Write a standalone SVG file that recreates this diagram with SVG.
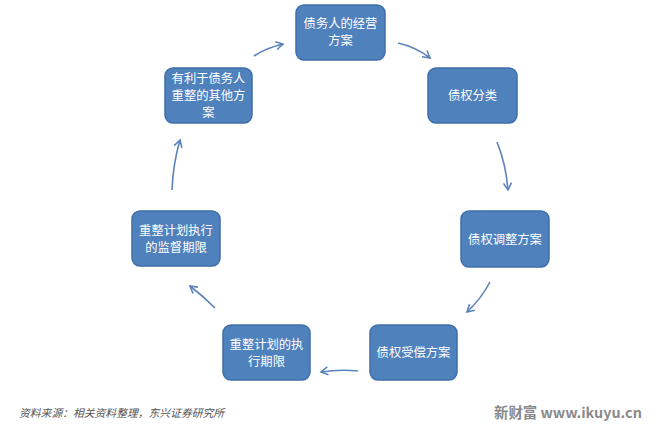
<svg xmlns="http://www.w3.org/2000/svg" width="660" height="432" viewBox="0 0 660 432">
<style>
.box{fill:#4F81BD;stroke:#3F6FA8;stroke-width:1.5}
.t{font-family:"Noto Sans CJK SC","Noto Sans",sans-serif;font-size:12.3px;fill:#FFFFFF;text-anchor:middle}
.c{fill:none;stroke:#5A84BA;stroke-width:1.6}
</style>
<defs>
<marker id="ah" markerWidth="10" markerHeight="10" refX="8" refY="5" orient="auto" markerUnits="userSpaceOnUse">
<path d="M1,1 L8,5 L1,9" fill="none" stroke="#5A84BA" stroke-width="1.6"/>
</marker>
</defs>
<rect width="660" height="432" fill="#FFFFFF"/>
<g id="n1"><rect class="box" x="296" y="5" width="89" height="55" rx="8"/><text class="t" x="340.5" y="28">债务人的经营</text><text class="t" x="340.5" y="45">方案</text></g>
<g id="n2"><rect class="box" x="428" y="68" width="89" height="55" rx="8"/><text class="t" x="472.5" y="100">债权分类</text></g>
<g id="n3"><rect class="box" x="461" y="211" width="88" height="56" rx="8"/><text class="t" x="505" y="244">债权调整方案</text></g>
<g id="n4"><rect class="box" x="370" y="325" width="87" height="55" rx="8"/><text class="t" x="413.5" y="357">债权受偿方案</text></g>
<g id="n5"><rect class="box" x="223" y="325" width="87" height="55" rx="8"/><text class="t" x="266.5" y="349">重整计划的执</text><text class="t" x="266.5" y="366">行期限</text></g>
<g id="n6"><rect class="box" x="132" y="211" width="88" height="55" rx="8"/><text class="t" x="176" y="235">重整计划执行</text><text class="t" x="176" y="252">的监督期限</text></g>
<g id="n7"><rect class="box" x="165" y="68" width="87" height="55" rx="8"/><text class="t" x="208.5" y="83">有利于债务人</text><text class="t" x="208.5" y="100">重整的其他方</text><text class="t" x="208.5" y="117">案</text></g>
<g id="connectors">
<path class="c" d="M398,43 Q416,47 430,58" marker-end="url(#ah)"/>
<path class="c" d="M497,142 Q506,164 508,190" marker-end="url(#ah)"/>
<path class="c" d="M490,282 Q481,299 467,312" marker-end="url(#ah)"/>
<path class="c" d="M358,371 Q340,369 321,372" marker-end="url(#ah)"/>
<path class="c" d="M215,308 Q203,296 190,286" marker-end="url(#ah)"/>
<path class="c" d="M172,190 Q173,164 180,140" marker-end="url(#ah)"/>
<path class="c" d="M254,56 Q266,48 283,44" marker-end="url(#ah)"/>
</g>
<text x="19" y="417" font-family="'Noto Sans CJK SC',sans-serif" font-size="10.8" font-style="italic" fill="#555555">资料来源：相关资料整理，东兴证券研究所</text>
<text x="494" y="418" font-family="'Noto Sans CJK SC','DejaVu Sans',sans-serif" font-size="14.4" font-weight="bold" fill="#8A8A8A">新财富 www.ikuyu.cn</text>
</svg>
